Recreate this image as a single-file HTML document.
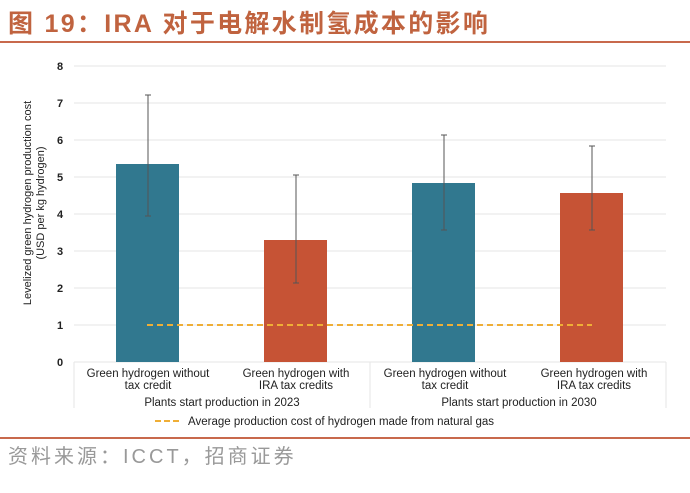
<!DOCTYPE html>
<html><head><meta charset="utf-8"><style>
html,body{margin:0;padding:0;background:#fff;width:690px;height:493px;overflow:hidden}
</style></head><body>
<svg width="690" height="493" xmlns="http://www.w3.org/2000/svg" style="display:block">
<text x="8" y="32" font-family="Liberation Sans,'Noto Sans CJK SC',sans-serif" font-size="25" font-weight="bold" letter-spacing="2.3" fill="#c0633f">图 19：IRA 对于电解水制氢成本的影响</text>
<rect x="0" y="41" width="690" height="2" fill="#c8694c"/>
<g stroke="#e6e6e6" stroke-width="1">
<line x1="74" x2="666" y1="66" y2="66"/><line x1="74" x2="666" y1="103" y2="103"/>
<line x1="74" x2="666" y1="140" y2="140"/><line x1="74" x2="666" y1="177" y2="177"/>
<line x1="74" x2="666" y1="214" y2="214"/><line x1="74" x2="666" y1="251" y2="251"/>
<line x1="74" x2="666" y1="288" y2="288"/><line x1="74" x2="666" y1="325" y2="325"/>
<line x1="74" x2="666" y1="362" y2="362"/>
<line x1="74" x2="74" y1="362" y2="408"/><line x1="370" x2="370" y1="362" y2="408"/><line x1="666" x2="666" y1="362" y2="408"/>
</g>
<g font-family="Liberation Sans,sans-serif" font-size="11" font-weight="600" fill="#222" text-anchor="middle">
<text x="60" y="70">8</text><text x="60" y="107">7</text><text x="60" y="144">6</text><text x="60" y="181">5</text>
<text x="60" y="218">4</text><text x="60" y="255">3</text><text x="60" y="292">2</text><text x="60" y="329">1</text><text x="60" y="366">0</text>
</g>
<g font-family="Liberation Sans,sans-serif" font-size="11" fill="#222" text-anchor="middle" transform="translate(34,203) rotate(-90)">
<text x="0" y="-3">Levelized green hydrogen production cost</text>
<text x="0" y="10">(USD per kg hydrogen)</text>
</g>
<rect x="116" y="164" width="63" height="198" fill="#31788f"/>
<rect x="264" y="240" width="63" height="122" fill="#c65335"/>
<rect x="412" y="183" width="63" height="179" fill="#31788f"/>
<rect x="560" y="193" width="63" height="169" fill="#c65335"/>
<line x1="147" x2="592" y1="325" y2="325" stroke="#efae36" stroke-width="2" stroke-dasharray="6,4"/>
<g stroke="#555" stroke-width="1">
<line x1="148" x2="148" y1="95" y2="216"/><line x1="145" x2="151" y1="95" y2="95"/><line x1="145" x2="151" y1="216" y2="216"/>
<line x1="296" x2="296" y1="175" y2="283"/><line x1="293" x2="299" y1="175" y2="175"/><line x1="293" x2="299" y1="283" y2="283"/>
<line x1="444" x2="444" y1="135" y2="230"/><line x1="441" x2="447" y1="135" y2="135"/><line x1="441" x2="447" y1="230" y2="230"/>
<line x1="592" x2="592" y1="146" y2="230"/><line x1="589" x2="595" y1="146" y2="146"/><line x1="589" x2="595" y1="230" y2="230"/>
</g>
<g font-family="Liberation Sans,sans-serif" font-size="11.5" fill="#222" text-anchor="middle">
<text x="148" y="377">Green hydrogen without</text><text x="148" y="389">tax credit</text>
<text x="296" y="377">Green hydrogen with</text><text x="296" y="389">IRA tax credits</text>
<text x="445" y="377">Green hydrogen without</text><text x="445" y="389">tax credit</text>
<text x="594" y="377">Green hydrogen with</text><text x="594" y="389">IRA tax credits</text>
<text x="222" y="406">Plants start production in 2023</text>
<text x="519" y="406">Plants start production in 2030</text>
<text x="188" y="425" text-anchor="start">Average production cost of hydrogen made from natural gas</text>
</g>
<line x1="155" x2="182" y1="421" y2="421" stroke="#efae36" stroke-width="2" stroke-dasharray="6,3"/>
<rect x="0" y="437" width="690" height="2" fill="#c8694c"/>
<text x="8" y="463" font-family="Liberation Sans,'Noto Sans CJK SC',sans-serif" font-size="20" letter-spacing="3" fill="#999">资料来源：ICCT，招商证券</text>
</svg>
</body></html>
